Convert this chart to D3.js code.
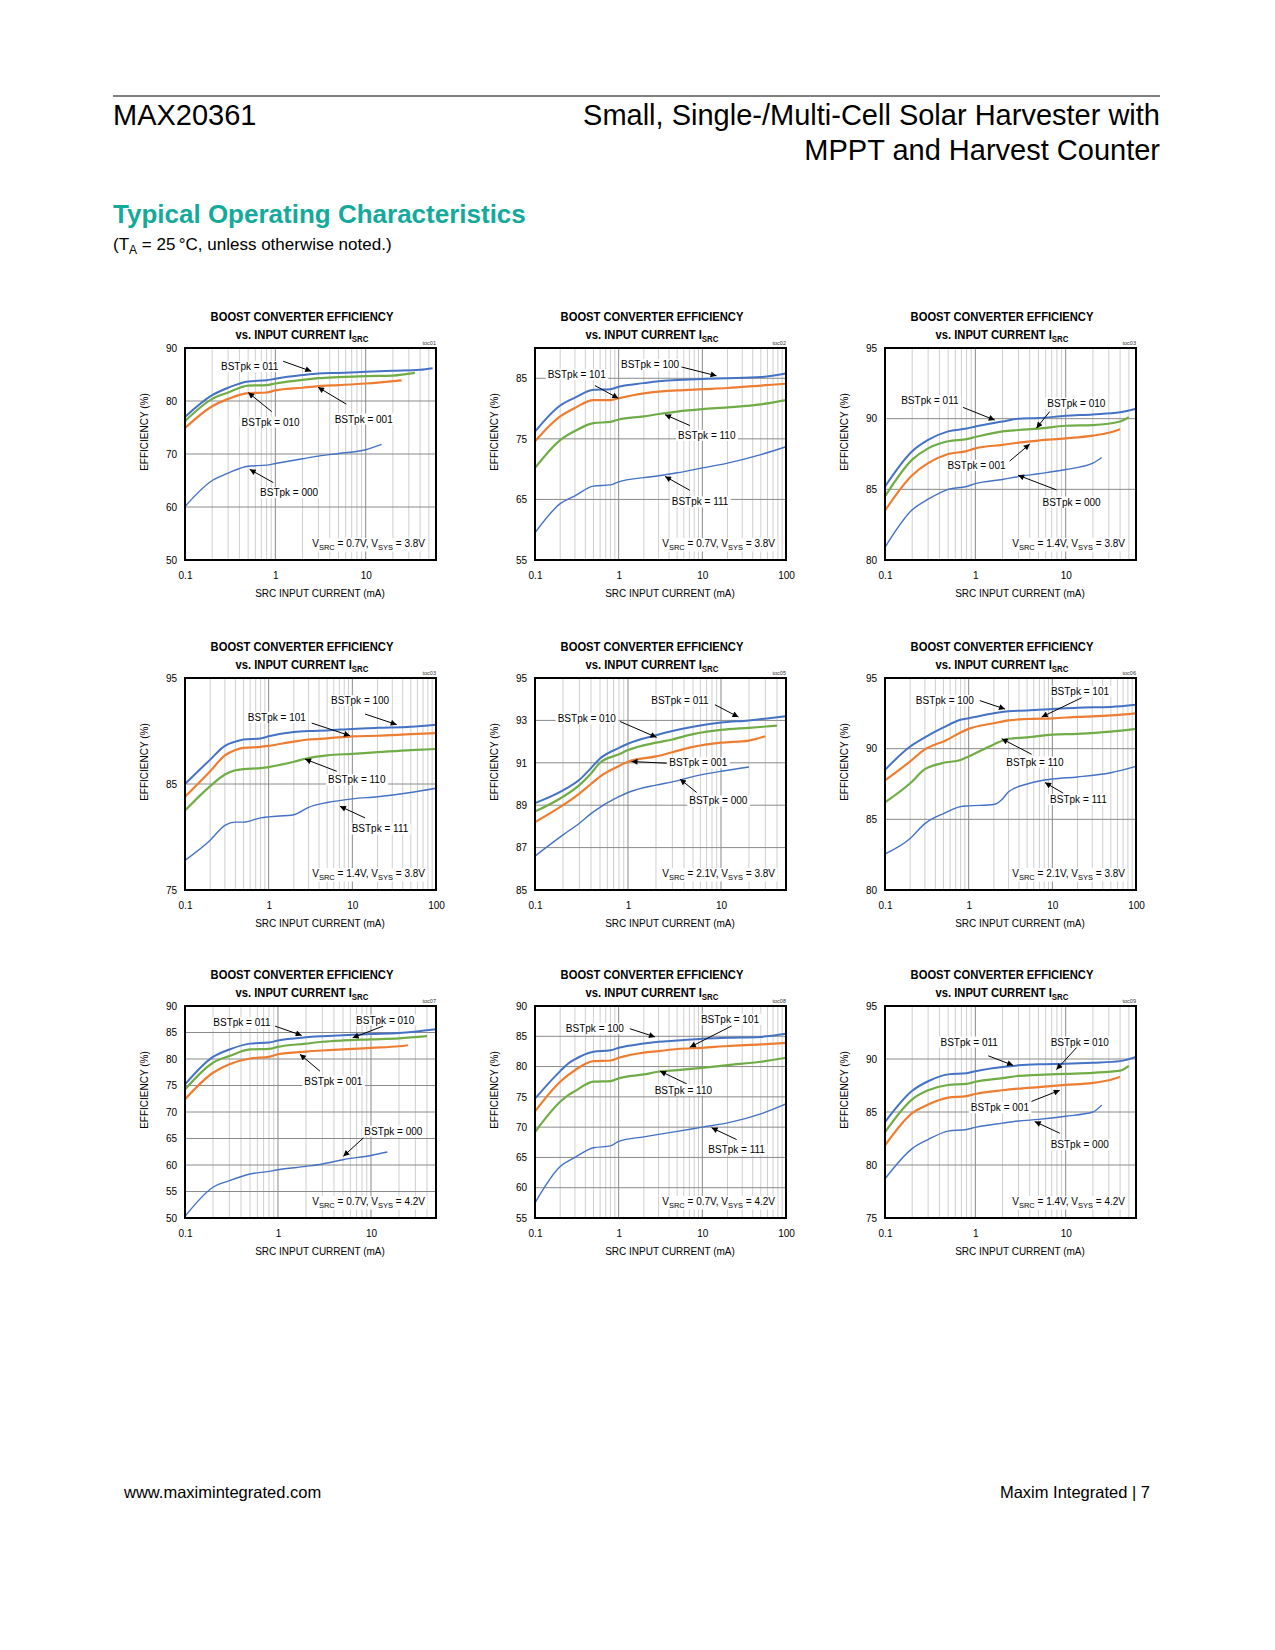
<!DOCTYPE html>
<html><head><meta charset="utf-8">
<script src="https://cdn.jsdelivr.net/npm/d3@7"></script>
<style>
body{margin:0;background:#fff;}
svg{display:block;}
</style></head><body>
<svg id="page" width="1275" height="1650"></svg>
<script>
// ---------------- DATA (mA, efficiency %) ----------------
const t1_011 = [[0.1,77.0],[0.2,81.1],[0.3,82.5],[0.5,83.7],[0.8,83.9],[1,84.2],[2,84.9],[3,85.2],[5,85.3],[10,85.5],[20,85.7],[40,85.9],[55,86.2]];
const t1_010 = [[0.1,76.2],[0.2,80.4],[0.3,81.6],[0.5,82.9],[0.8,83.0],[1,83.3],[2,84.0],[3,84.3],[5,84.5],[10,84.7],[20,84.8],[35,85.3]];
const t1_001 = [[0.1,74.9],[0.2,79.0],[0.3,80.4],[0.5,81.5],[0.8,81.6],[1,82.0],[2,82.5],[3,82.8],[5,83.0],[10,83.3],[25,83.9]];
const t1_000 = [[0.1,60.1],[0.2,65.0],[0.3,66.4],[0.5,67.7],[0.8,67.9],[1,68.2],[2,69.1],[3,69.6],[5,70.1],[10,70.8],[15,71.8]];

const t2_100 = [[0.1,76.2],[0.2,80.5],[0.3,81.8],[0.5,83.1],[0.8,83.2],[1,83.6],[2,84.2],[3,84.5],[5,84.7],[10,84.9],[20,85.0],[50,85.2],[100,85.8]];
const t2_101 = [[0.1,74.6],[0.2,78.7],[0.3,80.1],[0.5,81.4],[0.8,81.4],[1,81.7],[2,82.5],[3,82.8],[5,83.0],[10,83.2],[20,83.4],[50,83.8],[100,84.1]];
const t2_110 = [[0.1,70.2],[0.2,74.8],[0.3,76.3],[0.5,77.6],[0.8,77.8],[1,78.2],[2,78.7],[3,79.1],[5,79.5],[10,79.9],[20,80.2],[50,80.7],[100,81.4]];
const t2_111 = [[0.1,59.5],[0.2,64.3],[0.3,65.6],[0.5,67.2],[0.8,67.4],[1,67.9],[2,68.6],[3,68.9],[5,69.4],[10,70.2],[20,71.0],[50,72.4],[100,73.7]];

const t3_011 = [[0.1,85.2],[0.2,87.7],[0.3,88.5],[0.5,89.1],[0.8,89.3],[1,89.45],[2,89.8],[3,90.0],[5,90.04],[10,90.2],[20,90.3],[40,90.45],[60,90.7]];
const t3_010 = [[0.1,84.5],[0.2,87.1],[0.3,87.9],[0.5,88.4],[0.8,88.55],[1,88.7],[2,89.1],[3,89.2],[5,89.3],[10,89.5],[20,89.55],[40,89.8],[50,90.1]];
const t3_001 = [[0.1,83.5],[0.2,86.0],[0.3,86.85],[0.5,87.5],[0.8,87.7],[1,87.9],[2,88.15],[3,88.3],[5,88.45],[10,88.6],[20,88.8],[30,89.0],[40,89.25]];
const t3_000 = [[0.1,80.9],[0.2,83.55],[0.3,84.3],[0.5,85.0],[0.8,85.2],[1,85.4],[2,85.7],[3,85.9],[5,86.1],[10,86.4],[20,86.85],[25,87.25]];

const t4_100 = [[0.1,85.0],[0.2,87.3],[0.3,88.6],[0.4,89.0],[0.5,89.2],[0.8,89.3],[1,89.5],[2,89.9],[3,90.0],[5,90.05],[10,90.2],[20,90.3],[50,90.4],[100,90.6]];
const t4_101 = [[0.1,83.8],[0.2,86.2],[0.3,87.7],[0.4,88.2],[0.5,88.4],[0.8,88.5],[1,88.6],[2,89.0],[3,89.2],[5,89.3],[10,89.5],[20,89.55],[50,89.7],[100,89.8]];
const t4_110 = [[0.1,82.5],[0.2,84.8],[0.3,85.9],[0.4,86.3],[0.5,86.4],[0.8,86.5],[1,86.6],[2,87.1],[3,87.45],[5,87.7],[10,87.85],[20,88.0],[50,88.2],[100,88.3]];
const t4_111 = [[0.1,77.8],[0.2,79.7],[0.3,81.1],[0.4,81.4],[0.5,81.4],[0.8,81.8],[1,81.9],[2,82.1],[3,82.8],[5,83.25],[10,83.6],[20,83.8],[50,84.2],[100,84.6]];

const t5_011 = [[0.1,89.1],[0.2,89.7],[0.3,90.2],[0.4,90.75],[0.5,91.2],[0.8,91.7],[1,91.9],[2,92.3],[3,92.5],[5,92.7],[10,92.9],[20,93.0],[50,93.2]];
const t5_010 = [[0.1,88.7],[0.2,89.4],[0.3,89.95],[0.4,90.5],[0.5,91.0],[0.8,91.4],[1,91.6],[2,91.95],[3,92.1],[5,92.35],[10,92.55],[20,92.65],[40,92.75]];
const t5_001 = [[0.1,88.2],[0.2,89.0],[0.3,89.55],[0.4,90.0],[0.5,90.35],[0.8,90.85],[1,91.05],[2,91.3],[3,91.5],[5,91.75],[10,91.95],[20,92.05],[30,92.25]];
const t5_000 = [[0.1,86.6],[0.2,87.6],[0.3,88.15],[0.4,88.6],[0.5,88.9],[0.8,89.4],[1,89.6],[2,89.95],[3,90.1],[5,90.35],[10,90.6],[20,90.8]];

const t6_100 = [[0.1,88.5],[0.2,90.15],[0.3,90.8],[0.5,91.5],[0.8,92.05],[1,92.15],[2,92.5],[3,92.65],[5,92.7],[10,92.8],[20,92.9],[50,92.95],[100,93.1]];
const t6_101 = [[0.1,87.75],[0.2,89.1],[0.3,89.95],[0.4,90.3],[0.5,90.5],[0.8,91.15],[1,91.4],[2,91.8],[3,92.0],[5,92.1],[10,92.15],[20,92.25],[50,92.35],[100,92.5]];
const t6_110 = [[0.1,86.2],[0.2,87.55],[0.3,88.55],[0.4,88.85],[0.5,89.0],[0.8,89.2],[1,89.45],[2,90.3],[3,90.7],[5,90.8],[10,91.0],[20,91.05],[50,91.2],[100,91.4]];
const t6_111 = [[0.1,82.55],[0.2,83.65],[0.3,84.7],[0.4,85.15],[0.5,85.4],[0.8,85.9],[1,85.95],[2,86.05],[2.5,86.4],[3,86.95],[5,87.5],[10,87.85],[20,88.0],[50,88.3],[100,88.75]];

const t7_011 = [[0.1,75.2],[0.2,80.4],[0.3,81.8],[0.5,82.9],[0.8,83.1],[1,83.5],[2,84.1],[3,84.3],[5,84.5],[10,84.7],[20,84.9],[50,85.6]];
const t7_010 = [[0.1,74.25],[0.2,79.3],[0.3,80.55],[0.5,81.8],[0.8,81.9],[1,82.3],[2,82.9],[3,83.25],[5,83.5],[10,83.7],[20,83.9],[40,84.3]];
const t7_001 = [[0.1,72.4],[0.2,77.4],[0.3,79.0],[0.5,80.1],[0.8,80.4],[1,80.9],[2,81.4],[3,81.6],[5,81.8],[10,82.1],[20,82.4],[25,82.6]];
const t7_000 = [[0.1,50.3],[0.2,55.8],[0.3,57.05],[0.5,58.3],[0.8,58.8],[1,59.1],[2,59.75],[3,60.2],[5,61.0],[10,61.8],[15,62.45]];

const t8_100 = [[0.1,74.7],[0.2,79.25],[0.25,80.5],[0.3,81.2],[0.5,82.45],[0.8,82.7],[1,83.1],[2,83.8],[3,84.1],[5,84.3],[10,84.6],[20,84.75],[50,84.9],[100,85.4]];
const t8_101 = [[0.1,72.6],[0.2,77.5],[0.3,79.4],[0.5,80.9],[0.8,81.0],[1,81.45],[2,82.3],[3,82.55],[5,82.9],[10,83.1],[20,83.4],[50,83.65],[100,83.9]];
const t8_110 = [[0.1,69.2],[0.2,74.2],[0.25,75.3],[0.3,75.95],[0.5,77.5],[0.8,77.6],[1,78.05],[2,78.7],[3,79.15],[5,79.4],[10,79.8],[20,80.25],[50,80.8],[100,81.45]];
const t8_111 = [[0.1,57.5],[0.2,63.5],[0.3,65.0],[0.5,66.6],[0.8,66.9],[1,67.65],[2,68.4],[3,68.8],[5,69.3],[10,70.0],[20,70.7],[50,72.2],[100,73.85]];

const t9_011 = [[0.1,84.05],[0.2,87.0],[0.3,87.9],[0.5,88.55],[0.8,88.65],[1,88.85],[2,89.25],[3,89.4],[5,89.5],[10,89.55],[20,89.65],[40,89.8],[60,90.2]];
const t9_010 = [[0.1,83.1],[0.2,86.2],[0.3,87.05],[0.5,87.55],[0.8,87.65],[1,87.85],[2,88.2],[3,88.4],[5,88.5],[10,88.6],[20,88.7],[40,88.9],[50,89.35]];
const t9_001 = [[0.1,81.85],[0.2,84.9],[0.3,85.7],[0.5,86.35],[0.8,86.5],[1,86.7],[2,87.05],[3,87.2],[5,87.35],[10,87.55],[20,87.75],[30,88.0],[40,88.3]];
const t9_000 = [[0.1,78.7],[0.2,81.55],[0.3,82.4],[0.5,83.2],[0.8,83.35],[1,83.55],[2,83.95],[3,84.15],[5,84.3],[10,84.6],[20,85.0],[25,85.65]];

// per-chart axis settings
const tocNames = ["toc01","toc02","toc03","toc03","toc05","toc06","toc07","toc08","toc09"];
const xMaxes   = [60,100,60,100,50,100,50,100,60];
const yDomains = [[50,90],[55,90],[80,95],[75,95],[85,95],[80,95],[50,90],[55,90],[75,95]];
const yTickSets = [[50,60,70,80,90],[55,65,75,85],[80,85,90,95],[75,85,95],[85,87,89,91,93,95],[80,85,90,95],[50,55,60,65,70,75,80,85,90],[55,60,65,70,75,80,85,90],[75,80,85,90,95]];
const vsrcVals = ["0.7","0.7","1.4","1.4","2.1","2.1","0.7","0.7","1.4"];
const vsysVals = ["3.8","3.8","3.8","3.8","3.8","3.8","4.2","4.2","4.2"];

// series per chart: [name, data, colourKey]
const seriesSets = [
  [["011",t1_011,"blue"],["010",t1_010,"green"],["001",t1_001,"orange"],["000",t1_000,"blueThin"]],
  [["100",t2_100,"blue"],["101",t2_101,"orange"],["110",t2_110,"green"],["111",t2_111,"blueThin"]],
  [["011",t3_011,"blue"],["010",t3_010,"green"],["001",t3_001,"orange"],["000",t3_000,"blueThin"]],
  [["100",t4_100,"blue"],["101",t4_101,"orange"],["110",t4_110,"green"],["111",t4_111,"blueThin"]],
  [["011",t5_011,"blue"],["010",t5_010,"green"],["001",t5_001,"orange"],["000",t5_000,"blueThin"]],
  [["100",t6_100,"blue"],["101",t6_101,"orange"],["110",t6_110,"green"],["111",t6_111,"blueThin"]],
  [["011",t7_011,"blue"],["010",t7_010,"green"],["001",t7_001,"orange"],["000",t7_000,"blueThin"]],
  [["100",t8_100,"blue"],["101",t8_101,"orange"],["110",t8_110,"green"],["111",t8_111,"blueThin"]],
  [["011",t9_011,"blue"],["010",t9_010,"green"],["001",t9_001,"orange"],["000",t9_000,"blueThin"]]
];

// callouts in data units: [text, labelX, labelY, tailX, tailY, headX, headY]
const notes1 = [["BSTpk = 011",0.52,86.5,1.22,87.5,2.5,85.6],["BSTpk = 010",0.886,76.0,0.91,78.0,0.5,81.6],["BSTpk = 001",9.5,76.6,6.1,79.4,2.97,82.6],["BSTpk = 000",1.42,62.7,0.95,64.6,0.52,67.1]];
const notes2 = [["BSTpk = 100",2.37,87.25,5.16,87.0,14.8,85.4],["BSTpk = 101",0.315,85.6,0.52,83.8,0.99,81.7],["BSTpk = 110",11.3,75.6,7.1,77.2,3.58,79.0],["BSTpk = 111",9.4,64.6,7.1,66.5,3.58,68.8]];
const notes3 = [["BSTpk = 011",0.314,91.27,0.73,90.8,1.64,89.9],["BSTpk = 010",13.1,91.1,6.65,90.5,4.74,89.33],["BSTpk = 001",1.03,86.7,2.4,87.0,4.0,88.2],["BSTpk = 000",11.6,84.1,7.9,84.96,2.97,86.0]];
const notes4 = [["BSTpk = 100",12.4,92.86,14.2,91.6,33.9,90.6],["BSTpk = 101",1.25,91.3,3.27,90.75,9.4,89.55],["BSTpk = 110",11.3,85.4,6.5,86.2,2.72,87.35],["BSTpk = 111",21.4,80.76,14.2,81.8,7.1,82.9]];
const notes5 = [["BSTpk = 011",3.62,93.93,8.6,93.74,15.4,93.16],["BSTpk = 010",0.36,93.08,0.82,92.95,2.03,92.2],["BSTpk = 001",5.7,91.0,2.6,90.98,1.09,91.06],["BSTpk = 000",9.36,89.2,5.47,89.6,3.62,90.23]];
const notes6 = [["BSTpk = 100",0.52,93.4,1.36,93.4,2.72,92.8],["BSTpk = 101",21.4,94.05,22.4,93.6,7.46,92.24],["BSTpk = 110",6.2,89.05,5.66,89.6,2.48,90.7],["BSTpk = 111",20.5,86.4,13.5,86.85,8.17,87.6]];
const notes7 = [["BSTpk = 011",0.41,86.85,0.93,86.2,1.8,84.45],["BSTpk = 010",14.2,87.35,13.5,86.2,6.35,84.0],["BSTpk = 001",3.94,75.8,2.83,77.7,1.72,80.9],["BSTpk = 000",17.4,66.4,8.27,65.1,5.04,61.65]];
const notes8 = [["BSTpk = 100",0.52,86.25,1.36,86.25,2.72,84.9],["BSTpk = 101",21.4,87.8,22.4,86.7,7.1,83.2],["BSTpk = 110",5.93,76.1,6.5,77.15,3.12,79.25],["BSTpk = 111",25.7,66.3,25.7,67.95,12.9,69.9]];
const notes9 = [["BSTpk = 011",0.855,91.6,1.39,90.3,2.62,89.4],["BSTpk = 010",14.3,91.6,13.6,91.2,7.9,89.0],["BSTpk = 001",1.87,85.4,4.18,86.0,8.6,87.05],["BSTpk = 000",14.3,81.9,8.6,83.0,4.54,84.1]];
const noteSets = [notes1,notes2,notes3,notes4,notes5,notes6,notes7,notes8,notes9];

// ---------------- STYLE / LAYOUT ----------------
const colours = {blue:"#4472C4", blueThin:"#4472C4", orange:"#ED7D31", green:"#70AD47"};
const widths = {blue:2, blueThin:1.4, orange:2.2, green:2.2};
const SANS = "'Liberation Sans', Arial, Helvetica, sans-serif";
const colX = [185,535,885], rowY = [348,678,1006], W = 251, H = 212;

const svg = d3.select("#page");
svg.append("rect").attr("width",1275).attr("height",1650).attr("fill","#fff");

// arrow marker
svg.append("defs").append("marker").attr("id","arr")
  .attr("viewBox","0 0 10 10").attr("refX",10).attr("refY",5)
  .attr("markerWidth",8).attr("markerHeight",6).attr("markerUnits","userSpaceOnUse")
  .attr("orient","auto")
  .append("path").attr("d","M0,0L10,5L0,10z").attr("fill","#000");

// ---------------- PAGE HEADER ----------------
svg.append("line").attr("x1",113).attr("x2",1160).attr("y1",96).attr("y2",96).attr("stroke","#000").attr("stroke-width",1);
svg.append("text").attr("x",113).attr("y",125).attr("font-family",SANS).attr("font-size",29).text("MAX20361");
svg.append("text").attr("x",1160).attr("y",125).attr("text-anchor","end").attr("font-family",SANS).attr("font-size",29).text("Small, Single-/Multi-Cell Solar Harvester with");
svg.append("text").attr("x",1160).attr("y",160).attr("text-anchor","end").attr("font-family",SANS).attr("font-size",29).text("MPPT and Harvest Counter");
svg.append("text").attr("x",113).attr("y",223).attr("font-family",SANS).attr("font-weight","bold").attr("font-size",26).attr("fill","#13AA9C").text("Typical Operating Characteristics");
const sub = svg.append("text").attr("x",113).attr("y",250).attr("font-family",SANS).attr("font-size",17);
sub.append("tspan").text("(T");
sub.append("tspan").attr("font-size",12).attr("dy",4).text("A");
sub.append("tspan").attr("dy",-4).text(" = 25\u2009°C, unless otherwise noted.)");

// footer
svg.append("text").attr("x",124).attr("y",1498).attr("font-family",SANS).attr("font-size",16.5).text("www.maximintegrated.com");
svg.append("text").attr("x",1150).attr("y",1498).attr("text-anchor","end").attr("font-family",SANS).attr("font-size",16.5).text("Maxim Integrated | 7");

// ---------------- CHARTS ----------------
function boxed(g, textSel){
  const b = textSel.node().getBBox();
  g.insert("rect", function(){ return textSel.node(); })
    .attr("x",b.x-2).attr("y",b.y).attr("width",b.width+4).attr("height",b.height).attr("fill","#fff");
}

seriesSets.forEach((series,i)=>{
  const x0 = colX[i%3], y0 = rowY[Math.floor(i/3)];
  const g = svg.append("g").attr("transform",`translate(${x0},${y0})`);
  const xMax = xMaxes[i];
  const x = d3.scaleLog().domain([0.1,xMax]).range([0,W]);
  const y = d3.scaleLinear().domain(yDomains[i]).range([H,0]);

  // minor vertical grid
  const minor = [];
  [0.1,1,10].forEach(d=>{ for(let k=2;k<=9;k++){ const v=k*d; if(v<xMax-1e-9) minor.push(v);} });
  g.append("g").selectAll("line").data(minor).join("line")
    .attr("x1",d=>x(d)).attr("x2",d=>x(d)).attr("y1",0).attr("y2",H)
    .attr("stroke","#cfcfcf").attr("stroke-width",1);
  const major = [1,10].filter(v=>v<xMax);
  g.append("g").selectAll("line").data(major).join("line")
    .attr("x1",d=>x(d)).attr("x2",d=>x(d)).attr("y1",0).attr("y2",H)
    .attr("stroke","#8a8a8a").attr("stroke-width",1);
  const ySet = yTickSets[i];
  const yd = yDomains[i];
  g.append("g").selectAll("line").data(ySet.filter(v=>v>yd[0]&&v<yd[1])).join("line")
    .attr("x1",0).attr("x2",W).attr("y1",d=>y(d)).attr("y2",d=>y(d))
    .attr("stroke","#8a8a8a").attr("stroke-width",1);

  // curves
  const line = d3.line().x(d=>x(d[0])).y(d=>y(d[1])).curve(d3.curveMonotoneX);
  series.slice().reverse().forEach(s=>{
    g.append("path").datum(s[1]).attr("d",line).attr("fill","none")
      .attr("stroke",colours[s[2]]).attr("stroke-width",widths[s[2]]).attr("stroke-linejoin","round");
  });

  // callouts
  noteSets[i].forEach(n=>{
    g.append("line").attr("x1",x(n[3])).attr("y1",y(n[4])).attr("x2",x(n[5])).attr("y2",y(n[6]))
      .attr("stroke","#000").attr("stroke-width",1).attr("marker-end","url(#arr)");
  });
  noteSets[i].forEach(n=>{
    const t = g.append("text").attr("x",x(n[1])).attr("y",y(n[2])).attr("dy","0.35em")
      .attr("text-anchor","middle").attr("font-family",SANS).attr("font-size",10).text(n[0]);
    boxed(g,t);
  });

  // condition label
  const cond = g.append("text").attr("x",W-11).attr("y",H-13).attr("text-anchor","end")
    .attr("font-family",SANS).attr("font-size",10);
  cond.append("tspan").text("V");
  cond.append("tspan").attr("font-size",7.5).attr("dy",2.5).text("SRC");
  cond.append("tspan").attr("dy",-2.5).text(" = " + vsrcVals[i] + "V, V");
  cond.append("tspan").attr("font-size",7.5).attr("dy",2.5).text("SYS");
  cond.append("tspan").attr("dy",-2.5).text(" = " + vsysVals[i] + "V");
  boxed(g,cond);

  // frame
  g.append("rect").attr("x",0).attr("y",0).attr("width",W).attr("height",H)
    .attr("fill","none").attr("stroke","#000").attr("stroke-width",2);

  // axes labels
  const xt = [0.1,1,10,100].filter(v=>v<=xMax);
  const ax = g.append("g").attr("transform",`translate(0,${H})`)
    .call(d3.axisBottom(x).tickValues(xt).tickFormat(d3.format("~g")).tickSize(0).tickPadding(12));
  ax.select(".domain").remove();
  ax.selectAll("text").attr("font-family",SANS).attr("font-size",10).attr("fill","#000");
  const ay = g.append("g").call(d3.axisLeft(y).tickValues(ySet).tickFormat(d3.format("d")).tickSize(0).tickPadding(8));
  ay.select(".domain").remove();
  ay.selectAll("text").attr("font-family",SANS).attr("font-size",10).attr("fill","#000");

  g.append("text").attr("x",135).attr("y",H+37).attr("text-anchor","middle")
    .attr("font-family",SANS).attr("font-size",10).text("SRC INPUT CURRENT (mA)");
  g.append("text").attr("transform",`translate(-37,84) rotate(-90)`).attr("text-anchor","middle")
    .attr("font-family",SANS).attr("font-size",10).text("EFFICIENCY (%)");

  // titles (condensed bold)
  g.append("text").attr("transform","translate(117,-27) scale(0.83,1)").attr("text-anchor","middle")
    .attr("font-family",SANS).attr("font-weight","bold").attr("font-size",13.5).text("BOOST CONVERTER EFFICIENCY");
  const t2 = g.append("text").attr("transform","translate(117,-9) scale(0.83,1)").attr("text-anchor","middle")
    .attr("font-family",SANS).attr("font-weight","bold").attr("font-size",13.5);
  t2.append("tspan").text("vs. INPUT CURRENT I");
  t2.append("tspan").attr("font-size",9.5).attr("dy",3).text("SRC");
  g.append("text").attr("x",W).attr("y",-3).attr("text-anchor","end")
    .attr("font-family",SANS).attr("font-size",5.5).attr("fill","#333").text(tocNames[i]);
});
</script>
</body></html>
